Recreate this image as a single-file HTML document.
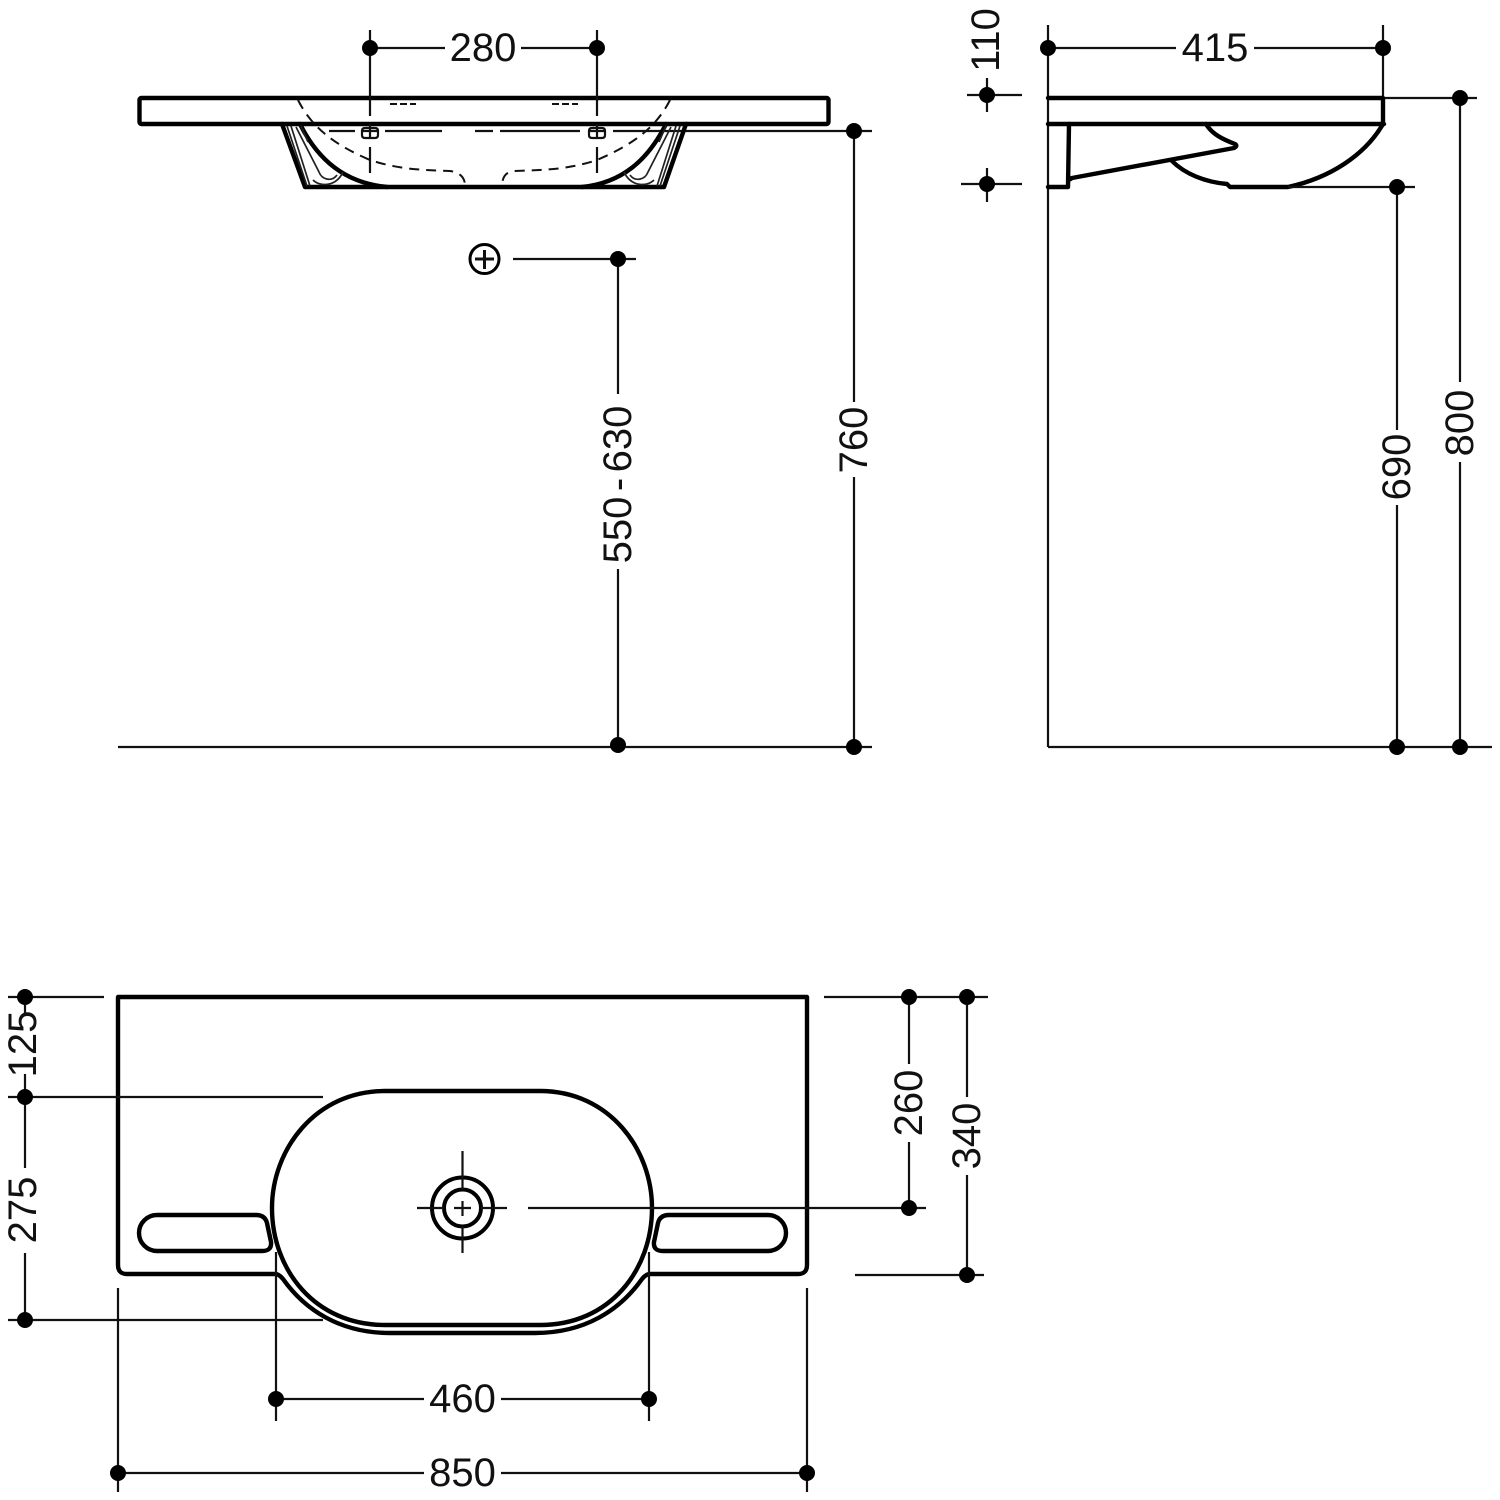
<!DOCTYPE html>
<html><head><meta charset="utf-8"><style>
html,body{margin:0;padding:0;background:#fff}
svg{display:block}
text{font-family:"Liberation Sans",sans-serif;font-size:40px;fill:#111;text-anchor:middle}
.t{stroke:#111;stroke-width:2.2;fill:none}
.b{stroke:#000;stroke-width:4.4;fill:none;stroke-linejoin:round;stroke-linecap:round}
.m{stroke:#111;stroke-width:2.4;fill:none}
.d{stroke:#111;stroke-width:2;fill:none;stroke-dasharray:10 7}
.g{stroke:#222;stroke-width:1.7;fill:none}
circle.p{fill:#000;stroke:none}
</style></head><body>
<svg width="1500" height="1500" viewBox="0 0 1500 1500" xmlns="http://www.w3.org/2000/svg">
<rect width="1500" height="1500" fill="#fff"/>

<!-- Front view -->
<rect class="b" x="139.500" y="98" width="689" height="26" rx="2"/>
<path class="t" d="M370 30V116M597 30V116M370 147V173M597 147V173M370 48H445M521 48H597"/>
<path class="t" d="M329 131H355M385 131H442M475 131H493M500 131H580M613 131H872"/>
<path class="t" d="M365 128H375Q378 128 378 131V135Q378 138 375 138H365Q362 138 362 135V131Q362 128 365 128ZM362 131H378M370 124V139M592 128H602Q605 128 605 131V135Q605 138 602 138H592Q589 138 589 135V131Q589 128 592 128ZM589 131H605M597 124V139"/>
<path class="b" d="M282 124L305 187H664L686 124"/>
<path class="b" d="M300 124C318 160 345 183 387 187"/>
<path class="b" d="M666 124C648 160 622 183 582 187"/>
<path class="g" d="M287 126L307 186M291 126L310 186M296 127L319 172C322 180 332 182 337 175M313 180C320 187 336 187 343 172M301 126L308 142"/>
<path class="g" d="M680 126L660 186M676 126L657 186M671 127L648 172C645 180 635 182 630 175M654 180C647 187 631 187 624 172M666 126L659 142"/>
<path class="d" d="M298 100C312 128 335 145 370 160C400 170 425 170 450 171C458 172 464 176 465 184"/>
<path class="d" d="M670 100C656 128 632 145 597 160C567 170 542 170 514 171C506 172 503 176 502 184"/>
<path class="d" d="M390 104H416M552 104H578" style="stroke-dasharray:7 3"/>
<text x="483" y="61">280</text>
<circle class="p" cx="370" cy="48" r="8"/><circle class="p" cx="597" cy="48" r="8"/>

<!-- Heights -->
<circle cx="484.500" cy="259" r="14.500" fill="none" stroke="#000" stroke-width="3"/>
<path class="m" d="M475 259H494M484.500 250V269" style="stroke-width:3"/>
<path class="t" d="M513 259H636M618 259V394M618 569V747M854 131V402M854 477V747M118 747H872"/>
<circle class="p" cx="618" cy="259" r="8"/><circle class="p" cx="618" cy="745" r="8"/>
<circle class="p" cx="854" cy="131" r="8"/><circle class="p" cx="854" cy="747" r="8"/>
<text transform="translate(631 484.500) rotate(-90)">550<tspan dx="5.500">-</tspan><tspan dx="5.500">630</tspan></text>
<text transform="translate(867 440) rotate(-90)">760</text>

<!-- Side view -->
<path class="t" d="M1048 25V747M1383 25V98M1048 48H1176M1254 48H1383M1048 747H1492M1383 98H1477"/>
<path class="b" d="M1048 98H1383V124M1048 124H1384"/>
<path class="b" d="M1069 124L1068 187H1048M1068 180Q1069 180 1072 178L1234 148Q1238 146 1235 144C1222 139 1212 134 1206 124"/>
<path class="b" d="M1172 161C1185 174 1205 182 1227 184L1230 187H1288C1330 178 1365 155 1383 124"/>
<path class="t" d="M1288 187H1415M1397 187V430M1397 505V747M1460 98V382M1460 462V747"/>
<path class="t" d="M967 95H1022M987 78V112M961 184H1022M987 168V202"/>
<circle class="p" cx="1048" cy="48" r="8"/><circle class="p" cx="1383" cy="48" r="8"/>
<circle class="p" cx="987" cy="95" r="8"/><circle class="p" cx="987" cy="184" r="8"/>
<circle class="p" cx="1397" cy="187" r="8"/><circle class="p" cx="1397" cy="747" r="8"/>
<circle class="p" cx="1460" cy="98" r="8"/><circle class="p" cx="1460" cy="747" r="8"/>
<text x="1215" y="61">415</text>
<text transform="translate(999 40) rotate(-90)">110</text>
<text transform="translate(1410 467) rotate(-90)">690</text>
<text transform="translate(1473 423) rotate(-90)">800</text>

<!-- Plan view -->
<path class="b" d="M118 997H807V1265Q807 1274 798 1274H650Q646 1274 642 1279C620 1310 585 1333 535 1333H390C340 1333 305 1310 283 1279Q279 1274 275 1274H127Q118 1274 118 1265Z"/>
<path class="b" d="M385 1091H540C610 1091 652 1150 652 1208C652 1270 610 1325 540 1325H385C315 1325 272 1270 272 1208C272 1150 315 1091 385 1091Z"/>
<path class="b" d="M157 1215H256Q265 1215 267 1223L271 1242Q272 1251 262 1251H157A18 18 0 0 1 157 1215Z"/>
<path class="b" d="M768 1215H669Q660 1215 658 1223L654 1242Q653 1251 663 1251H768A18 18 0 0 0 768 1215Z"/>
<circle cx="462.500" cy="1208" r="30.500" fill="none" stroke="#000" stroke-width="4"/>
<circle cx="462.500" cy="1208" r="18.500" fill="none" stroke="#000" stroke-width="4"/>
<path class="t" d="M462.500 1151V1190M462.500 1226V1253M417 1208H444M481 1208H507M454 1208H471M462.500 1201V1216"/>
<path class="t" d="M528 1208H926M824 997H988M909 997V1064M909 1142V1208M967 997V1097M967 1175V1275M855 1275H984"/>
<path class="t" d="M8 997H104M8 1097H323M8 1320H323M25 997V1013M25 1074V1097M25 1097V1168M25 1253V1320"/>
<path class="t" d="M276 1252V1421M649 1252V1421M276 1399H424M501 1399H649M118 1288V1492M807 1288V1492M118 1473H424M501 1473H807"/>
<circle class="p" cx="909" cy="997" r="8"/><circle class="p" cx="967" cy="997" r="8"/>
<circle class="p" cx="909" cy="1208" r="8"/><circle class="p" cx="967" cy="1275" r="8"/>
<circle class="p" cx="25" cy="997" r="8"/><circle class="p" cx="25" cy="1097" r="8"/><circle class="p" cx="25" cy="1320" r="8"/>
<circle class="p" cx="276" cy="1399" r="8"/><circle class="p" cx="649" cy="1399" r="8"/>
<circle class="p" cx="118" cy="1473" r="8"/><circle class="p" cx="807" cy="1473" r="8"/>
<text transform="translate(922 1103) rotate(-90)">260</text>
<text transform="translate(980 1136) rotate(-90)">340</text>
<text transform="translate(36 1044) rotate(-90)">125</text>
<text transform="translate(36 1210) rotate(-90)">275</text>
<text x="462.500" y="1412">460</text>
<text x="462.500" y="1486">850</text>
</svg>
</body></html>
